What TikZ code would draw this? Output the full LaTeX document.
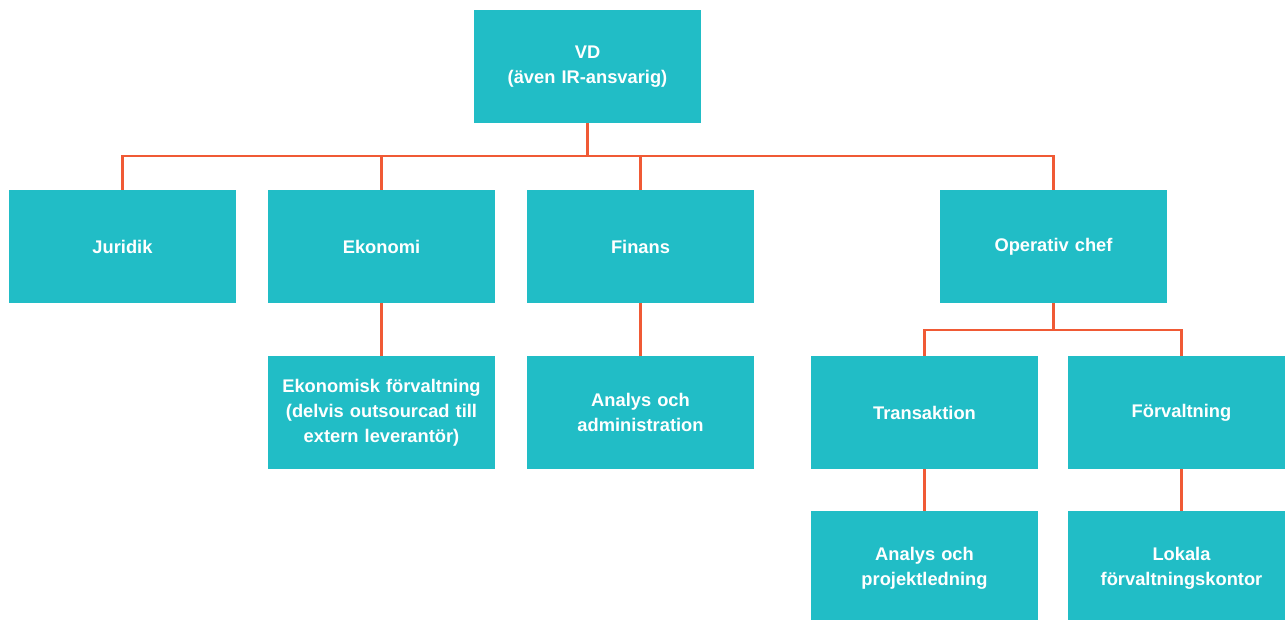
\documentclass[tikz,border=0pt]{standalone}
\usepackage{fontspec}
\setmainfont{Liberation Sans}
\usetikzlibrary{positioning}
\definecolor{BoxTeal}{HTML}{21BDC6}
\definecolor{LinkOrange}{HTML}{F05A35}

\begin{document}
\begin{tikzpicture}[
    x=1pt, y=-1pt,
    unit/.style={
      fill=BoxTeal, draw=none,
      minimum width=227pt, minimum height=113pt,
      text width=215pt, align=center, inner sep=0pt,
      text=white, font=\fontsize{18.3}{25}\selectfont\bfseries
    },
    link/.style={draw=LinkOrange, line width=2.5pt}
  ]
    \useasboundingbox (0,0) rectangle (1285,619);

    % Top
    \node[unit] (vd) at (587.5, 66.5) {VD\\(även IR-ansvarig)};

    % Level 1
    \node[unit] (jur) at (122.5, 246.5) {Juridik};
    \node[unit] (eko) at (381.5, 246.5) {Ekonomi};
    \node[unit] (fin) at (640.5, 246.5) {Finans};
    \node[unit] (opc) at (1053.5, 246.5) {Operativ chef};

    % Level 2
    \node[unit, below=53pt of eko] (ekf) {Ekonomisk förvaltning\\(delvis outsourcad till\\extern leverantör)};
    \node[unit, below=53pt of fin] (ana) {Analys och\\administration};
    \node[unit] (tra) at (924.5, 412.5) {Transaktion};
    \node[unit] (frv) at (1181.5, 412.5) {Förvaltning};

    % Level 3
    \node[unit, below=42pt of tra] (apl) {Analys och\\projektledning};
    \node[unit, below=42pt of frv] (lok) {Lokala\\förvaltningskontor};

    % Links
    \foreach \child in {jur, eko, fin, opc}
      \draw[link] (vd.south) -- ++(0,33) -| (\child.north);
    \draw[link] (eko) -- (ekf);
    \draw[link] (fin) -- (ana);
    \foreach \child in {tra, frv}
      \draw[link] (opc.south) -- ++(0,27) -| (\child.north);
    \draw[link] (tra) -- (apl);
    \draw[link] (frv) -- (lok);
  \end{tikzpicture}
\end{document}
